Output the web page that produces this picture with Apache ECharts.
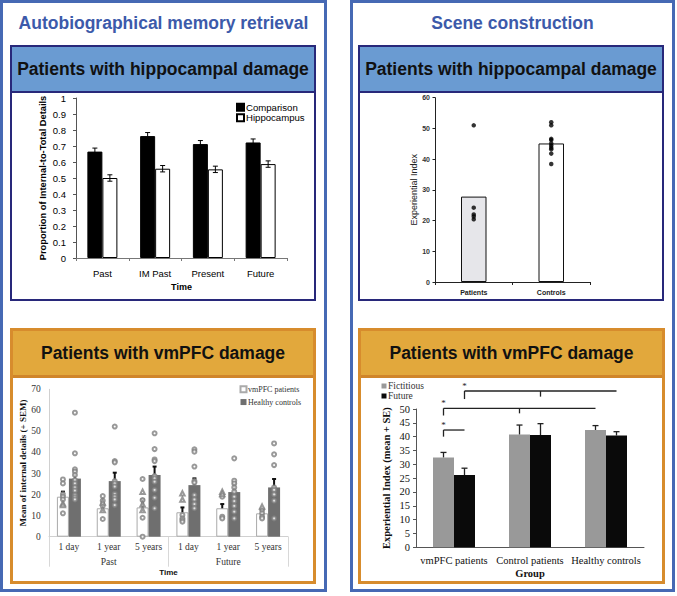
<!DOCTYPE html>
<html><head><meta charset="utf-8">
<script src="https://cdn.jsdelivr.net/npm/echarts@6/dist/echarts.min.js"></script>
<style>
html,body{margin:0;padding:0;background:#fff;}
.abs{position:absolute;box-sizing:border-box;}
.outer{border:3px solid #4669b4;background:#fff;}
.title{font:bold 17.5px "Liberation Sans",Arial,sans-serif;color:#3c5aaa;text-align:center;line-height:20px;white-space:nowrap;}
.navy{border:2px solid #28287a;background:#fff;}
.navy .hdr{background:#6a9bd2;border-bottom:2px solid #28287a;height:43.5px;}
.orng{border:3px solid #d78c2d;background:#fff;}
.orng .hdr{background:#e2a83c;border-bottom:3px solid #d0852a;height:44px;}
.hdr{display:flex;align-items:center;justify-content:center;font:bold 17.5px "Liberation Sans",Arial,sans-serif;color:#111;line-height:20px;white-space:nowrap;}
#c{position:absolute;left:0;top:0;width:677px;height:596px;}
</style>
</head><body>
<div class="abs outer" style="left:0;top:0;width:327px;height:592px;"></div>
<div class="abs outer" style="left:350px;top:0;width:325px;height:592px;"></div>
<div class="abs title" style="left:0;top:13px;width:327px;">Autobiographical memory retrieval</div>
<div class="abs title" style="left:350px;top:13px;width:325px;">Scene construction</div>
<div class="abs navy" style="left:10px;top:45px;width:306px;height:256px;"><div class="hdr">Patients with hippocampal damage</div></div>
<div class="abs navy" style="left:358px;top:45px;width:306px;height:256px;"><div class="hdr">Patients with hippocampal damage</div></div>
<div class="abs orng" style="left:10px;top:328px;width:306px;height:256px;"><div class="hdr">Patients with vmPFC damage</div></div>
<div class="abs orng" style="left:358px;top:328px;width:307px;height:256px;"><div class="hdr">Patients with vmPFC damage</div></div>
<div id="c"></div>
<script>
// ---------- Panel A: autobiographical memory, hippocampal damage ----------
const amrCategories = ['Past', 'IM Past', 'Present', 'Future'];
const amrComparison = [0.665, 0.762, 0.712, 0.722];
const amrComparisonErr = [0.022, 0.022, 0.022, 0.022];
const amrHippocampus = [0.500, 0.558, 0.554, 0.587];
const amrHippocampusErr = [0.020, 0.020, 0.020, 0.020];

// ---------- Panel B: scene construction, hippocampal damage ----------
const scCategories = ['Patients', 'Controls'];
const scMeans = [27.8, 45.1];
const scPatientPoints = [51.0, 24.2, 22.0, 21.3, 20.4];
const scControlPoints = [52.0, 51.0, 46.6, 46.2, 45.1, 44.4, 43.7, 43.2, 41.8, 38.4];

// ---------- Panel C: autobiographical memory, vmPFC damage ----------
const vmTimeCats = ['1 day', '1 year', '5 years', '1 day', '1 year', '5 years'];
const vmGroups = ['Past', 'Future'];
const vmPatients = [19.0, 13.5, 13.9, 11.6, 13.5, 11.1];
const vmPatientsErr = [2.4, 2.3, 3.8, 2.3, 2.0, 1.6];
const vmControls = [27.6, 26.4, 29.3, 24.5, 21.2, 23.4];
const vmControlsErr = [4.1, 4.0, 4.0, 3.2, 4.1, 4.0];
const vmPatientCircles = [[27.2, 25.3, 20.1, 19.0, 17.7, 11.1], [19.3, 17.1, 14.6, 8.4], [27.4, 17.4, 9.0, 0.0], [10.3, 8.7, 7.9, 7.1], [19.0, 9.5, 8.7], [12.7, 11.1, 9.5, 8.7]];
const vmPatientTriangles = [[15.8, 15.0], [16.2, 12.7], [21.4, 15.4, 12.7], [20.6, 17.7], [21.4, 20.3], [14.3]];
const vmControlCircles = [
  [58.9, 39.6, 32.0, 30.9, 29.3, 26.9, 25.3, 23.4, 21.9, 19.8, 18.7, 17.7],
  [52.3, 35.9, 35.3, 26.4, 25.3, 23.8, 20.3, 19.0, 17.7, 15.0],
  [49.1, 41.6, 36.7, 35.9, 28.8, 27.7, 26.1, 22.2, 18.5, 13.5],
  [41.5, 40.4, 33.3, 26.4, 25.7, 19.8, 17.7, 15.5, 13.5],
  [37.2, 26.6, 25.3, 23.4, 21.4, 19.0, 16.9, 14.6, 11.9, 8.7],
  [44.3, 39.1, 34.0, 23.4, 22.2, 20.1, 17.1, 8.7]
];

// ---------- Panel D: scene construction, vmPFC damage ----------
const eiGroups = ['vmPFC patients', 'Control patients', 'Healthy controls'];
const eiFictitious = [32.5, 40.8, 42.4];
const eiFictitiousErr = [1.8, 3.4, 1.6];
const eiFuture = [26.1, 40.6, 40.4];
const eiFutureErr = [2.5, 4.1, 1.4];
// significance comparisons: [group, series] endpoints, bracket height
const eiBrackets = [
  { from: [0, 1], mid: [1, 1], to: [2, 1], y: 56.5, drop: 2.9 },
  { from: [0, 0], mid: [1, 0], to: [2, 0], y: 50.25, drop: 2.6 },
  { from: [0, 0], mid: null, to: [0, 1], y: 42.4, drop: 2.4 }
];

const SANS = '"Liberation Sans", Arial, sans-serif';
const SERIF = '"Liberation Serif", "Times New Roman", serif';

function pts(lists) {
  const out = [];
  lists.forEach((arr, i) => arr.forEach(v => out.push([i, v])));
  return out;
}

function errSeries(xi, means, errs, offset, both, color, lw, cap) {
  return {
    type: 'custom', xAxisIndex: xi, yAxisIndex: xi === 3 ? 2 : (xi === 4 ? 3 : xi), z: 10, silent: true, clip: false,
    encode: { x: 0, y: 1 },
    data: means.map((m, i) => [i, m, m + errs[i], m - errs[i]]),
    renderItem: function (params, api) {
      const base = api.coord([api.value(0), api.value(1)]);
      const x = base[0] + offset;
      const top = api.coord([api.value(0), api.value(2)])[1];
      const bot = both ? api.coord([api.value(0), api.value(3)])[1] : base[1];
      const st = { stroke: color, lineWidth: lw };
      const ch = [
        { type: 'line', shape: { x1: x, y1: top, x2: x, y2: bot }, style: st },
        { type: 'line', shape: { x1: x - cap, y1: top, x2: x + cap, y2: top }, style: st }
      ];
      if (both) ch.push({ type: 'line', shape: { x1: x - cap, y1: bot, x2: x + cap, y2: bot }, style: st });
      return { type: 'group', children: ch };
    }
  };
}

const valLabel = (font, size, margin, color, weight) => ({ fontFamily: font, fontSize: size, margin: margin, color: color, fontWeight: weight || 'normal', interval: 0, hideOverlap: false });

const option = {
  backgroundColor: 'transparent',
  animation: false,
  grid: [
    { left: 76, top: 98, width: 211, height: 160 },
    { left: 435, top: 97.7, width: 155, height: 184.3 },
    { left: 49, top: 389.3, width: 239, height: 147.4 },
    { left: 416, top: 409, width: 228, height: 138.3 }
  ],
  legend: [
    { orient: 'vertical', left: 236, top: 102, padding: 0, itemGap: 0, itemWidth: 7, itemHeight: 7, icon: 'rect',
      data: ['Comparison', 'Hippocampus'], textStyle: { fontFamily: SANS, fontSize: 9.6, color: '#000', lineHeight: 10.5, padding: [0, 0, 0, -3] } },
    { orient: 'vertical', left: 239.5, top: 383, padding: 0, itemGap: 0, itemWidth: 6, itemHeight: 6, icon: 'rect',
      data: ['vmPFC patients', 'Healthy controls'], textStyle: { fontFamily: SERIF, fontSize: 8, color: '#333', lineHeight: 12.7, padding: [0, 0, 0, -3.5] } },
    { orient: 'vertical', left: 381.5, top: 381, padding: 0, itemGap: 0, itemWidth: 5, itemHeight: 5, icon: 'rect',
      data: ['Fictitious', 'Future'], textStyle: { fontFamily: SERIF, fontSize: 9.5, color: '#333', lineHeight: 10, padding: [0, 0, 0, -3.5] } }
  ],
  xAxis: [
    { gridIndex: 0, type: 'category', data: amrCategories,
      axisLine: { lineStyle: { color: '#777', width: 1 } }, axisTick: { show: true, length: 3, lineStyle: { color: '#777' } },
      axisLabel: valLabel(SANS, 9.5, 10, '#000'),
      name: 'Time', nameLocation: 'middle', nameGap: 24, nameTextStyle: { fontFamily: SANS, fontSize: 9, fontWeight: 'bold', color: '#000' } },
    { gridIndex: 1, type: 'category', data: scCategories,
      axisLine: { lineStyle: { color: '#222', width: 1 } }, axisTick: { show: true, length: 3, lineStyle: { color: '#222' } },
      axisLabel: valLabel(SANS, 7, 7, '#222', 'bold') },
    { gridIndex: 2, type: 'category', data: vmTimeCats,
      axisLine: { lineStyle: { color: '#d0d0d0', width: 1 } }, axisTick: { show: false },
      axisLabel: valLabel(SERIF, 9.5, 5.5, '#333') },
    { gridIndex: 2, type: 'category', data: vmGroups, position: 'bottom', offset: 0,
      axisLine: { show: false }, axisTick: { show: true, length: 30, lineStyle: { color: '#d8d8d8' } },
      axisLabel: valLabel(SERIF, 9.5, 20, '#333'),
      name: 'Time', nameLocation: 'middle', nameGap: 32, nameTextStyle: { fontFamily: SANS, fontSize: 8, fontWeight: 'bold', color: '#111' } },
    { gridIndex: 3, type: 'category', data: eiGroups,
      axisLine: { lineStyle: { color: '#555', width: 1 } }, axisTick: { show: false },
      axisLabel: valLabel(SERIF, 10.5, 7.5, '#111'),
      name: 'Group', nameLocation: 'middle', nameGap: 21, nameTextStyle: { fontFamily: SERIF, fontSize: 10.5, fontWeight: 'bold', color: '#111' } }
  ],
  yAxis: [
    { gridIndex: 0, type: 'value', min: 0, max: 1, interval: 0.1, splitLine: { show: false },
      axisLine: { show: true, lineStyle: { color: '#555' } }, axisTick: { show: true, length: 3, lineStyle: { color: '#555' } },
      axisLabel: Object.assign(valLabel(SANS, 9.5, 10, '#000'), { formatter: v => String(Math.round(v * 10) / 10) }),
      name: 'Proportion of Internal-to-Total Details', nameLocation: 'middle', nameGap: 28.5,
      nameTextStyle: { fontFamily: SANS, fontSize: 9.3, fontWeight: 'bold', color: '#000' } },
    { gridIndex: 1, type: 'value', min: 0, max: 60, interval: 10, splitLine: { show: false },
      axisLine: { show: true, lineStyle: { color: '#222' } }, axisTick: { show: true, length: 2.5, lineStyle: { color: '#222' } },
      axisLabel: valLabel(SANS, 7, 5, '#333', 'bold'),
      name: 'Experiential Index', nameLocation: 'middle', nameGap: 14.5,
      nameTextStyle: { fontFamily: SANS, fontSize: 9, color: '#222' } },
    { gridIndex: 2, type: 'value', min: 0, max: 70, interval: 10, splitLine: { show: false },
      axisLine: { show: true, lineStyle: { color: '#d0d0d0' } }, axisTick: { show: false },
      axisLabel: valLabel(SERIF, 9.5, 8.3, '#333'),
      name: 'Mean of internal details (+ SEM)', nameLocation: 'middle', nameGap: 18,
      nameTextStyle: { fontFamily: SERIF, fontSize: 9, fontWeight: 'bold', color: '#111' } },
    { gridIndex: 3, type: 'value', min: 0, max: 50, interval: 5, splitLine: { show: false },
      axisLine: { show: true, lineStyle: { color: '#555' } }, axisTick: { show: true, length: 3, lineStyle: { color: '#555' } },
      axisLabel: valLabel(SERIF, 10.5, 6, '#111'),
      name: 'Experiential Index (mean + SE)', nameLocation: 'middle', nameGap: 24,
      nameTextStyle: { fontFamily: SERIF, fontSize: 10.5, fontWeight: 'bold', color: '#111' } }
  ],
  series: [
    // Panel A
    { name: 'Comparison', type: 'bar', xAxisIndex: 0, yAxisIndex: 0, barWidth: 15, barGap: '0%', data: amrComparison,
      itemStyle: { color: '#000', borderColor: '#000', borderWidth: 1 } },
    { name: 'Hippocampus', type: 'bar', xAxisIndex: 0, yAxisIndex: 0, barWidth: 15, barGap: '0%', data: amrHippocampus,
      itemStyle: { color: '#fff', borderColor: '#000', borderWidth: 1 } },
    errSeries(0, amrComparison, amrComparisonErr, -7.5, true, '#000', 1, 2.5),
    errSeries(0, amrHippocampus, amrHippocampusErr, 7.5, true, '#000', 1, 2.5),
    // Panel B
    { name: 'Group mean', type: 'bar', xAxisIndex: 1, yAxisIndex: 1, barWidth: 25.5,
      data: scMeans.map((v, i) => ({ value: v, itemStyle: { color: i === 0 ? '#e6e6ea' : '#ffffff' } })),
      itemStyle: { borderColor: '#111', borderWidth: 1 } },
    { name: 'Patients points', type: 'scatter', xAxisIndex: 1, yAxisIndex: 1, symbolSize: 4.5, z: 5,
      data: scPatientPoints.map(v => [0, v]), itemStyle: { color: '#000' } },
    { name: 'Controls points', type: 'scatter', xAxisIndex: 1, yAxisIndex: 1, symbolSize: 4.5, z: 5,
      data: scControlPoints.map(v => [1, v]), itemStyle: { color: '#000' } },
    // Panel C
    { name: 'vmPFC patients', type: 'bar', xAxisIndex: 2, yAxisIndex: 2, barWidth: 12, barGap: '0%', data: vmPatients,
      itemStyle: { color: '#fff', borderColor: '#aaa', borderWidth: 1 } },
    { name: 'Healthy controls', type: 'bar', xAxisIndex: 2, yAxisIndex: 2, barWidth: 12, barGap: '0%', data: vmControls,
      itemStyle: { color: '#6f6f6f' } },
    errSeries(2, vmPatients, vmPatientsErr, -6, false, '#111', 2, 2),
    errSeries(2, vmControls, vmControlsErr, 6, false, '#111', 2, 2),
    { name: 'patient circles', type: 'scatter', xAxisIndex: 2, yAxisIndex: 2, symbol: 'emptyCircle', symbolSize: 4, symbolOffset: [-6, 0], z: 12,
      data: pts(vmPatientCircles), itemStyle: { color: '#808080', borderWidth: 0.6 } },
    { name: 'patient triangles', type: 'scatter', xAxisIndex: 2, yAxisIndex: 2, symbol: 'emptyTriangle', symbolSize: 4.5, symbolOffset: [-6, 0], z: 12,
      data: pts(vmPatientTriangles), itemStyle: { color: '#808080', borderWidth: 0.6 } },
    { name: 'control circles', type: 'scatter', xAxisIndex: 2, yAxisIndex: 2, symbol: 'emptyCircle', symbolSize: 4, symbolOffset: [6, 0], z: 12,
      data: pts(vmControlCircles), itemStyle: { color: '#808080', borderWidth: 0.6 } },
    // Panel D
    { name: 'Fictitious', type: 'bar', xAxisIndex: 4, yAxisIndex: 3, barWidth: 21, barGap: '0%', data: eiFictitious,
      itemStyle: { color: '#999999' } },
    { name: 'Future', type: 'bar', xAxisIndex: 4, yAxisIndex: 3, barWidth: 21, barGap: '0%', data: eiFuture,
      itemStyle: { color: '#0a0a0a' } },
    errSeries(4, eiFictitious, eiFictitiousErr, -10.5, false, '#222', 1.3, 3),
    errSeries(4, eiFuture, eiFutureErr, 10.5, false, '#222', 1.3, 3),
    { name: 'brackets', type: 'custom', xAxisIndex: 4, yAxisIndex: 3, z: 10, silent: true, clip: false,
      encode: { x: 0, y: 4 },
      data: eiBrackets.map(b => [b.from[0], b.from[1], b.to[0], b.to[1], b.y, b.mid ? b.mid[0] : -1, b.mid ? b.mid[1] : -1, b.drop]),
      renderItem: function (params, api) {
        const off = s => (s === 0 ? -10.5 : 10.5);
        const y = api.coord([0, api.value(4)])[1];
        const yd = api.coord([0, api.value(4) - api.value(7)])[1];
        const x1 = api.coord([api.value(0), 0])[0] + off(api.value(1));
        const x2 = api.coord([api.value(2), 0])[0] + off(api.value(3));
        const st = { stroke: '#222', lineWidth: 1.3 };
        const ch = [
          { type: 'line', shape: { x1: x1, y1: y, x2: x2, y2: y }, style: st },
          { type: 'line', shape: { x1: x1, y1: y, x2: x1, y2: yd }, style: st },
          { type: 'text', style: { text: '*', x: x1, y: y - 1, align: 'center', verticalAlign: 'bottom', font: '9px "Liberation Serif", serif', fill: '#222' } }
        ];
        if (api.value(5) >= 0) {
          const xm = api.coord([api.value(5), 0])[0] + off(api.value(6));
          const ym = api.coord([0, api.value(4) - api.value(7) * 0.7])[1];
          ch.push({ type: 'line', shape: { x1: xm, y1: y, x2: xm, y2: ym }, style: st });
        }
        return { type: 'group', children: ch };
      } }
  ]
};

const chart = echarts.init(document.getElementById('c'), null, { renderer: 'svg', width: 677, height: 596 });
chart.setOption(option);
</script>
</body></html>
